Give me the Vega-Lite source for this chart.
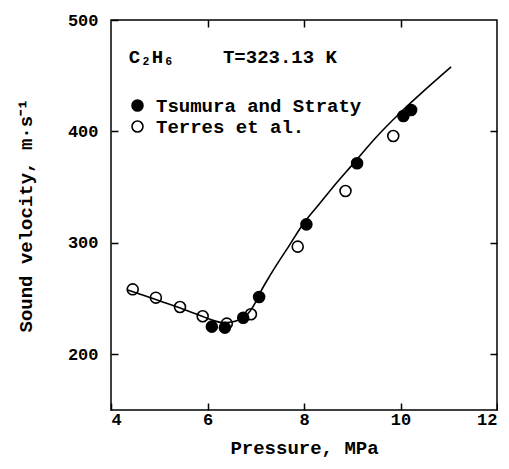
{
  "$schema": "https://vega.github.io/schema/vega-lite/v6.json",
  "width": 386,
  "height": 390,
  "padding": {"left": 16, "top": 11, "right": 0, "bottom": 6},
  "background": "white",
  "config": {
    "view": {"stroke": "black", "strokeWidth": 1.5},
    "font": "Liberation Mono",
    "axis": {
      "domain": false,
      "grid": false,
      "tickColor": "black",
      "tickWidth": 1.5,
      "tickSize": -7,
      "labelFont": "Liberation Mono",
      "labelFontWeight": "bold",
      "labelFontSize": 17,
      "labelColor": "black",
      "titleFont": "Liberation Mono",
      "titleFontWeight": "bold",
      "titleFontSize": 19,
      "titleColor": "black"
    }
  },
  "datasets": {
    "curve": [
      {"p": 4.33, "v": 258}, {"p": 4.5, "v": 255.5}, {"p": 5.0, "v": 248}, {"p": 5.5, "v": 240.5},
      {"p": 5.9, "v": 234}, {"p": 6.15, "v": 230}, {"p": 6.3, "v": 228.5}, {"p": 6.5, "v": 229},
      {"p": 6.7, "v": 232}, {"p": 6.85, "v": 237}, {"p": 7.0, "v": 247}, {"p": 7.1, "v": 256},
      {"p": 7.3, "v": 271}, {"p": 7.7, "v": 298}, {"p": 8.0, "v": 318}, {"p": 8.3, "v": 334},
      {"p": 8.6, "v": 350}, {"p": 9.0, "v": 370}, {"p": 9.5, "v": 395}, {"p": 10.0, "v": 417},
      {"p": 10.5, "v": 437}, {"p": 11.05, "v": 458}
    ],
    "points": [
      {"p": 4.45, "v": 258.3, "source": "Terres et al."},
      {"p": 4.93, "v": 250.8, "source": "Terres et al."},
      {"p": 5.43, "v": 242.4, "source": "Terres et al."},
      {"p": 5.90, "v": 234.1, "source": "Terres et al."},
      {"p": 6.40, "v": 227.5, "source": "Terres et al."},
      {"p": 6.90, "v": 235.9, "source": "Terres et al."},
      {"p": 7.87, "v": 296.6, "source": "Terres et al."},
      {"p": 8.86, "v": 346.5, "source": "Terres et al."},
      {"p": 9.85, "v": 395.9, "source": "Terres et al."},
      {"p": 6.09, "v": 224.8, "source": "Tsumura and Straty"},
      {"p": 6.36, "v": 223.9, "source": "Tsumura and Straty"},
      {"p": 6.74, "v": 232.8, "source": "Tsumura and Straty"},
      {"p": 7.07, "v": 251.4, "source": "Tsumura and Straty"},
      {"p": 8.05, "v": 316.6, "source": "Tsumura and Straty"},
      {"p": 9.10, "v": 371.4, "source": "Tsumura and Straty"},
      {"p": 10.06, "v": 413.8, "source": "Tsumura and Straty"},
      {"p": 10.22, "v": 419.2, "source": "Tsumura and Straty"}
    ],
    "labels": [
      {"p": 4.37, "v": 467, "text": "C₂H₆"},
      {"p": 6.32, "v": 467, "text": "T=323.13 K"}
    ]
  },
  "layer": [
    {
      "data": {"name": "curve"},
      "mark": {"type": "line", "color": "black", "strokeWidth": 1.6, "interpolate": "monotone"},
      "encoding": {
        "x": {"field": "p", "type": "quantitative", "scale": {"domain": [4, 12], "nice": false},
          "axis": {"orient": "bottom", "values": [4, 6, 8, 10, 12], "title": "Pressure, MPa", "labelPadding": 8, "titlePadding": 11}},
        "y": {"field": "v", "type": "quantitative", "scale": {"domain": [150, 500], "nice": false, "zero": false},
          "axis": {"orient": "left", "values": [200, 300, 400, 500], "title": "Sound velocity, m·s⁻¹", "labelPadding": 20, "titlePadding": 32}}
      }
    },
    {
      "data": {"name": "curve"},
      "mark": {"type": "line", "opacity": 0},
      "encoding": {
        "x": {"field": "p", "type": "quantitative",
          "axis": {"orient": "top", "values": [6, 8, 10], "labels": false, "title": null}},
        "y": {"field": "v", "type": "quantitative",
          "axis": {"orient": "right", "values": [200, 300, 400], "labels": false, "title": null}}
      }
    },
    {
      "data": {"name": "points"},
      "mark": {"type": "point", "shape": "circle", "size": 120, "stroke": "black", "strokeWidth": 1.6, "filled": false, "opacity": 1},
      "encoding": {
        "x": {"field": "p", "type": "quantitative", "axis": null},
        "y": {"field": "v", "type": "quantitative", "axis": null},
        "fill": {"field": "source", "type": "nominal",
          "scale": {"domain": ["Tsumura and Straty", "Terres et al."], "range": ["black", "rgba(255,255,255,0)"]},
          "legend": {"orient": "none", "legendX": 17, "legendY": 76, "title": null,
            "symbolType": "circle", "symbolSize": 120, "symbolStrokeColor": "black", "symbolStrokeWidth": 1.6,
            "symbolOpacity": 1, "labelFont": "Liberation Mono", "labelFontSize": 19, "labelFontWeight": "bold",
            "labelColor": "black", "labelOffset": 9, "rowPadding": 1, "labelLimit": 400}}
      }
    },
    {
      "data": {"name": "labels"},
      "mark": {"type": "text", "align": "left", "baseline": "middle", "font": "Liberation Mono", "fontSize": 19, "fontWeight": "bold", "color": "black"},
      "encoding": {
        "x": {"field": "p", "type": "quantitative", "axis": null},
        "y": {"field": "v", "type": "quantitative", "axis": null},
        "text": {"field": "text"}
      }
    }
  ]
}
